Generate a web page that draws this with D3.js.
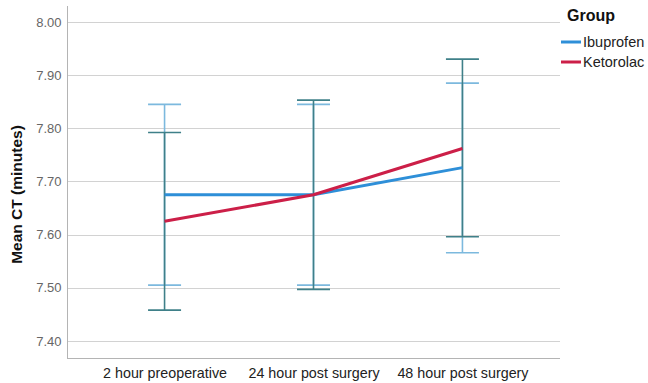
<!DOCTYPE html>
<html>
<head>
<meta charset="utf-8">
<script src="https://cdn.jsdelivr.net/npm/d3@7"></script>
<style>
  html, body { margin: 0; padding: 0; background: #fff; }
  svg { display: block; font-family: "Liberation Sans", Arial, sans-serif; }
</style>
</head>
<body>
<svg id="chart" width="648" height="383"></svg>
<script>
// Time points on the x axis
const timepoints = ["2 hour preoperative", "24 hour post surgery", "48 hour post surgery"];

// Group means (minutes)
const ibuprofenMean = [7.675, 7.675, 7.726];
const ketorolacMean = [7.625, 7.675, 7.762];

// 95% CI bounds for each group
const ibuprofenLow  = [7.505, 7.505, 7.566];
const ibuprofenHigh = [7.845, 7.845, 7.885];
const ketorolacLow  = [7.458, 7.497, 7.596];
const ketorolacHigh = [7.792, 7.853, 7.930];

const yTicks = [7.40, 7.50, 7.60, 7.70, 7.80, 7.90, 8.00];

const groups = [
  { name: "Ibuprofen", mean: ibuprofenMean, low: ibuprofenLow, high: ibuprofenHigh,
    line: "#2e8fd8", bar: "#7cb9de" },
  { name: "Ketorolac", mean: ketorolacMean, low: ketorolacLow, high: ketorolacHigh,
    line: "#cc1f48", bar: "#3f8089" }
];

const svg = d3.select("#chart");
const plot = { left: 67, right: 560, top: 6, bottom: 358 };

const x = d3.scalePoint().domain(timepoints).range([plot.left, plot.right]).padding(0.655);
const y = d3.scaleLinear().domain([7.368, 8.03]).range([plot.bottom, plot.top]);

// Horizontal gridlines
svg.append("g").selectAll("line").data(yTicks).join("line")
  .attr("x1", plot.left).attr("x2", plot.right)
  .attr("y1", d => Math.round(y(d)) + 0.5).attr("y2", d => Math.round(y(d)) + 0.5)
  .attr("stroke", "#d2d2d2").attr("stroke-width", 1);

// Y axis
const yAxis = svg.append("g").attr("transform", `translate(${plot.left + 0.5},0)`)
  .call(d3.axisLeft(y).tickValues(yTicks).tickFormat(d3.format(".2f")).tickSize(0).tickPadding(6));
yAxis.select(".domain").attr("stroke", "#b4b4b4").attr("d", `M0,${plot.top}V${plot.bottom}`);
yAxis.selectAll("text").attr("fill", "#666").attr("font-size", 13)
  .attr("font-family", "Liberation Sans, Arial, sans-serif");

// X axis
const xAxis = svg.append("g").attr("transform", `translate(0,${plot.bottom + 0.5})`)
  .call(d3.axisBottom(x).tickSize(0).tickPadding(9));
xAxis.select(".domain").attr("stroke", "#b4b4b4").attr("d", `M${plot.left},0H${plot.right}`);
xAxis.selectAll("text").attr("fill", "#222").attr("font-size", 14.3)
  .attr("font-family", "Liberation Sans, Arial, sans-serif");

// Y axis title
svg.append("text")
  .attr("transform", `translate(22,194.5) rotate(-90)`)
  .attr("text-anchor", "middle").attr("font-size", 15.5).attr("font-weight", "bold")
  .attr("fill", "#111").text("Mean CT (minutes)");

// Error bars
const capHalf = 16.5;
groups.forEach(g => {
  const eb = svg.append("g").attr("stroke", g.bar).attr("stroke-width", 1.6);
  timepoints.forEach((t, i) => {
    const cx = x(t);
    eb.append("line").attr("x1", cx).attr("x2", cx).attr("y1", y(g.low[i])).attr("y2", y(g.high[i]));
    eb.append("line").attr("x1", cx - capHalf).attr("x2", cx + capHalf)
      .attr("y1", y(g.low[i])).attr("y2", y(g.low[i]));
    eb.append("line").attr("x1", cx - capHalf).attr("x2", cx + capHalf)
      .attr("y1", y(g.high[i])).attr("y2", y(g.high[i]));
  });
});

// Mean lines
const line = d3.line().x((d, i) => x(timepoints[i])).y(d => y(d));
groups.forEach(g => {
  svg.append("path").datum(g.mean).attr("d", line)
    .attr("fill", "none").attr("stroke", g.line).attr("stroke-width", 3);
});

// Legend
const legend = svg.append("g");
legend.append("text").attr("x", 567).attr("y", 21).attr("font-size", 16)
  .attr("font-weight", "bold").attr("fill", "#111").text("Group");
groups.forEach((g, i) => {
  const ly = 42 + i * 20;
  legend.append("line").attr("x1", 561).attr("x2", 581).attr("y1", ly).attr("y2", ly)
    .attr("stroke", g.line).attr("stroke-width", 3);
  legend.append("text").attr("x", 583).attr("y", ly + 5).attr("font-size", 14.5)
    .attr("fill", "#222").text(g.name);
});
</script>
</body>
</html>
